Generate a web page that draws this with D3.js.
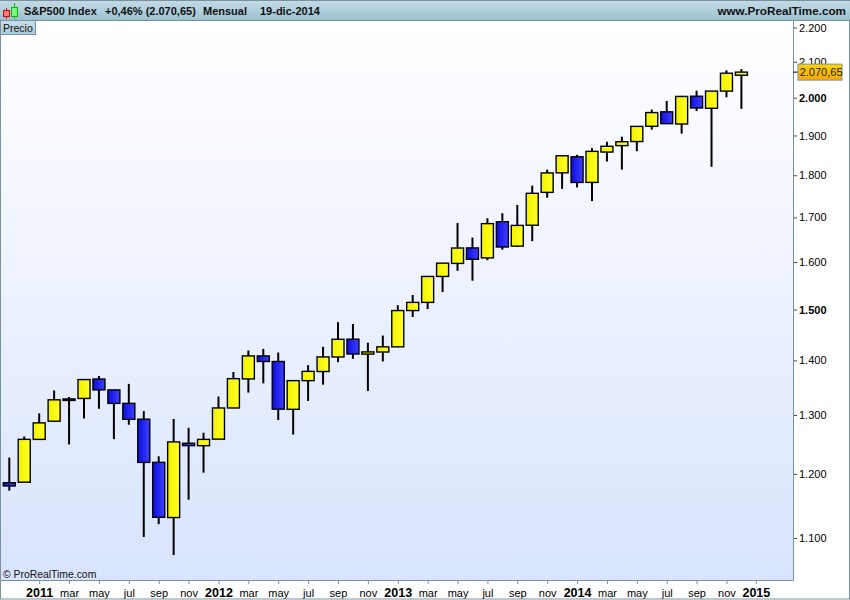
<!DOCTYPE html>
<html><head><meta charset="utf-8">
<script src="https://cdn.jsdelivr.net/npm/d3@7"></script>
<style>html,body{margin:0;padding:0;background:#fff}svg{display:block}text{font-family:"Liberation Sans",Arial,sans-serif}</style>
</head><body><svg id="c" width="850" height="600"></svg>
<script>
const months = ["nov10","dic10","ene11","feb11","mar11","abr11","may11","jun11","jul11","ago11","sep11","oct11","nov11","dic11",
"ene12","feb12","mar12","abr12","may12","jun12","jul12","ago12","sep12","oct12","nov12","dic12",
"ene13","feb13","mar13","abr13","may13","jun13","jul13","ago13","sep13","oct13","nov13","dic13",
"ene14","feb14","mar14","abr14","may14","jun14","jul14","ago14","sep14","oct14","nov14","dic14"];
const opens = [1185.7,1186.6,1257.6,1289,1328.6,1329.5,1365,1345,1320.6,1292.6,1219,1131,1251,1246.9,
1258,1312.4,1365.2,1408.5,1397.9,1310,1362,1379,1406.5,1440.9,1412,1416,
1426,1498,1514.7,1569,1597,1631,1609,1690,1635,1682,1758.7,1806,
1845.9,1782.7,1857.7,1874,1884.4,1923.9,1962,1929.8,2004,1971.4,2018,2062];
const highs = [1227,1262.6,1302.7,1344,1332,1364,1370.6,1345,1356,1307,1229,1293,1277.6,1269,
1333,1378,1419,1422,1415,1363,1391,1426,1474.5,1470.9,1434,1448,
1509,1530,1570,1597.6,1687,1654,1698,1709.7,1729,1775,1814,1849.4,
1850.8,1867.9,1884,1897,1924,1968,1991,2005,2019,2018,2075.8,2079];
const lows = [1173,1186.6,1262,1289,1249,1294,1311,1258,1282.9,1101.5,1120.9,1074.8,1158.7,1202,
1258,1312,1340,1357,1291,1266,1325,1354.6,1396.6,1403,1343,1398,
1426,1485,1501,1536,1581,1560,1604,1627,1633,1646,1746,1767,
1770.5,1737.9,1834,1814,1859.8,1915,1930.7,1904.8,1964,1820.7,2001,1970];
const closes = [1180.55,1257.64,1286.12,1327,1325.83,1364,1345,1320.6,1292.3,1218.9,1131.4,1253.3,1246.96,1257.6,
1312.4,1365.7,1408.5,1397.9,1310.3,1362,1379.3,1406.6,1440.7,1412.2,1416.2,1426,
1498,1514.7,1569,1597.6,1630.7,1606,1685.7,1633,1681.6,1756.5,1805.8,1848.4,
1782.6,1859.45,1872.3,1884,1923.6,1960,1930.7,2003.4,1972.3,2018,2067.6,2070.65];
const priceTicks = [1100,1200,1300,1400,1500,1600,1700,1800,1900,2000,2100,2200];
const boldPrices = [1500,2000];
const timeTickMonths = ["ene11","mar11","may11","jul11","sep11","nov11","ene12","mar12","may12","jul12","sep12","nov12","ene13","mar13","may13","jul13","sep13","nov13","ene14","mar14","may14","jul14","sep14","nov14"];
const timeTickLabels = ["2011","mar","may","jul","sep","nov","2012","mar","may","jul","sep","nov","2013","mar","may","jul","sep","nov","2014","mar","may","jul","sep","nov"];
const lastPrice = 2070.65;
const title = ["S&P500 Index","+0,46% (2.070,65)","Mensual","19-dic-2014"];

const frame="#7b919f";
const L=1,R=793,T=20,B=580;
const svg=d3.select("#c");
const es=d3.formatLocale({decimal:",",thousands:".",grouping:[3],currency:["","€"]});
const fmtTickInt=es.format(",d"), fmtLast=es.format(",.2f");

const defs=svg.append("defs");
function grad(id,stops,h){const g=defs.append("linearGradient").attr("id",id).attr("x1",0).attr("y1",0).attr("x2",h?1:0).attr("y2",h?0:1);
 stops.forEach(([o,c])=>g.append("stop").attr("offset",o).attr("stop-color",c));}
grad("bg",[[0,"#ffffff"],[1,"#d8e4fd"]]);
grad("hdr",[[0,"#c3dbe6"],[0.5,"#b2d0dd"],[1,"#9cc0d0"]]);
grad("tag",[[0,"#ffd400"],[1,"#f8a800"]]);
grad("up",[[0,"#f2f200"],[1,"#ffff28"]],true);
grad("down",[[0,"#0c0ce0"],[1,"#4040ff"]],true);
grad("lbl",[[0,"#c8dfe9"],[1,"#a8cbd9"]]);

svg.append("rect").attr("width",850).attr("height",600).attr("fill","#fff");
svg.append("rect").attr("x",L).attr("y",T).attr("width",R-L).attr("height",B-T).attr("fill","url(#bg)");

const y=d3.scaleLog().domain([2200,1100]).range([27.5,538]);
const x=d3.scaleLinear().domain([0,months.length-1]).range([9.3,741.4]);
const xm=m=>x(months.indexOf(m));

// candles
const data=months.map((m,i)=>({m,o:opens[i],h:highs[i],l:lows[i],c:closes[i]}));
const g=svg.append("g");
g.selectAll("line.w").data(data).join("line").attr("class","w")
 .attr("x1",d=>xm(d.m)).attr("x2",d=>xm(d.m))
 .attr("y1",d=>y(d.h)).attr("y2",d=>y(d.l)).attr("stroke","#000").attr("stroke-width",2);
g.selectAll("rect.b").data(data).join("rect").attr("class","b")
 .attr("x",d=>xm(d.m)-6).attr("width",12)
 .attr("y",d=>Math.min(y(d.o),y(d.c)))
 .attr("height",d=>Math.max(1,Math.abs(y(d.o)-y(d.c))))
 .attr("fill",d=>d.c>=d.o?"url(#up)":"url(#down)")
 .attr("stroke","#000").attr("stroke-width",1.4);

// y axis
const ya=svg.append("g").attr("transform",`translate(${R},0)`)
 .call(d3.axisRight(y).tickValues(priceTicks).tickFormat(d=>fmtTickInt(d)).tickSize(4).tickPadding(2));
ya.select(".domain").remove();
ya.selectAll("line").attr("stroke","#3a4a55");
ya.selectAll("text").attr("font-size",11).attr("fill","#000").attr("font-weight",d=>boldPrices.includes(d)?"bold":"normal");

// x axis
const xa=svg.append("g").attr("transform",`translate(0,${B})`)
 .call(d3.axisBottom(d3.scalePoint().domain(timeTickMonths).range([xm("ene11"),xm("nov14")])).tickFormat((d,i)=>timeTickLabels[i]).tickSize(4));
xa.select(".domain").remove();
xa.selectAll("line").attr("stroke",frame);
xa.selectAll("text").attr("y",17).attr("dy",0).attr("font-size",d=>d.startsWith("ene")?12.5:11).attr("font-weight",d=>d.startsWith("ene")?"bold":"normal").attr("fill","#000");
const xb=svg.append("g").attr("transform",`translate(${x(months.length)},${B})`);
xb.append("line").attr("y2",4).attr("stroke",frame);
xb.append("text").attr("y",17).attr("text-anchor","middle").attr("font-size",12.5).attr("font-weight","bold").text("2015");

// frames
svg.append("rect").attr("x",.5).attr("y",.5).attr("width",849).attr("height",598.5).attr("fill","none").attr("stroke",frame);
svg.append("line").attr("x1",0).attr("x2",R+.5).attr("y1",B+.5).attr("y2",B+.5).attr("stroke",frame);
svg.append("line").attr("x1",R+.5).attr("x2",R+.5).attr("y1",T).attr("y2",B+.5).attr("stroke",frame);

// header
svg.append("rect").attr("x",0).attr("y",0).attr("width",850).attr("height",20).attr("fill","url(#hdr)");
svg.append("line").attr("x1",0).attr("x2",850).attr("y1",20.5).attr("y2",20.5).attr("stroke",frame);
svg.append("line").attr("x1",0).attr("x2",850).attr("y1",.5).attr("y2",.5).attr("stroke",frame);
// icon
svg.append("line").attr("x1",6.5).attr("x2",6.5).attr("y1",8).attr("y2",19).attr("stroke","#e00");
svg.append("rect").attr("x",3.5).attr("y",10.5).attr("width",6).attr("height",6).attr("fill","#f08080").attr("stroke","#d00");
svg.append("line").attr("x1",14.5).attr("x2",14.5).attr("y1",3).attr("y2",19).attr("stroke","#0c0");
svg.append("rect").attr("x",11.5).attr("y",7.5).attr("width",6).attr("height",9).attr("fill","#80f080").attr("stroke","#0b0");
const hx=[24,105,203,260];
svg.selectAll("text.h").data(title).join("text").attr("class","h").attr("x",(d,i)=>hx[i]).attr("y",15)
 .attr("font-size",11).attr("font-weight","bold").attr("fill","#111").text(d=>d);
svg.append("text").attr("x",846).attr("y",15).attr("text-anchor","end").attr("font-size",11.7).attr("font-weight","bold").attr("fill","#111").text("www.ProRealTime.com");

// Precio label
svg.append("rect").attr("x",.5).attr("y",20.5).attr("width",35).attr("height",14).attr("fill","url(#lbl)").attr("stroke",frame);
svg.append("text").attr("x",3).attr("y",31.5).attr("font-size",10.5).attr("fill","#111").text("Precio");

// copyright
svg.append("text").attr("x",3).attr("y",578).attr("font-size",10.4).attr("fill","#111").text("© ProRealTime.com");

// last price tag
const ly=y(lastPrice);
svg.append("line").attr("x1",R).attr("x2",R+5).attr("y1",ly).attr("y2",ly).attr("stroke","#000");
svg.append("rect").attr("x",798).attr("y",ly-8).attr("width",44).attr("height",16).attr("fill","url(#tag)").attr("stroke",frame);
svg.append("text").attr("x",799.7).attr("y",ly+4).attr("font-size",11).attr("fill","#222").text(fmtLast(lastPrice));
</script></body></html>
